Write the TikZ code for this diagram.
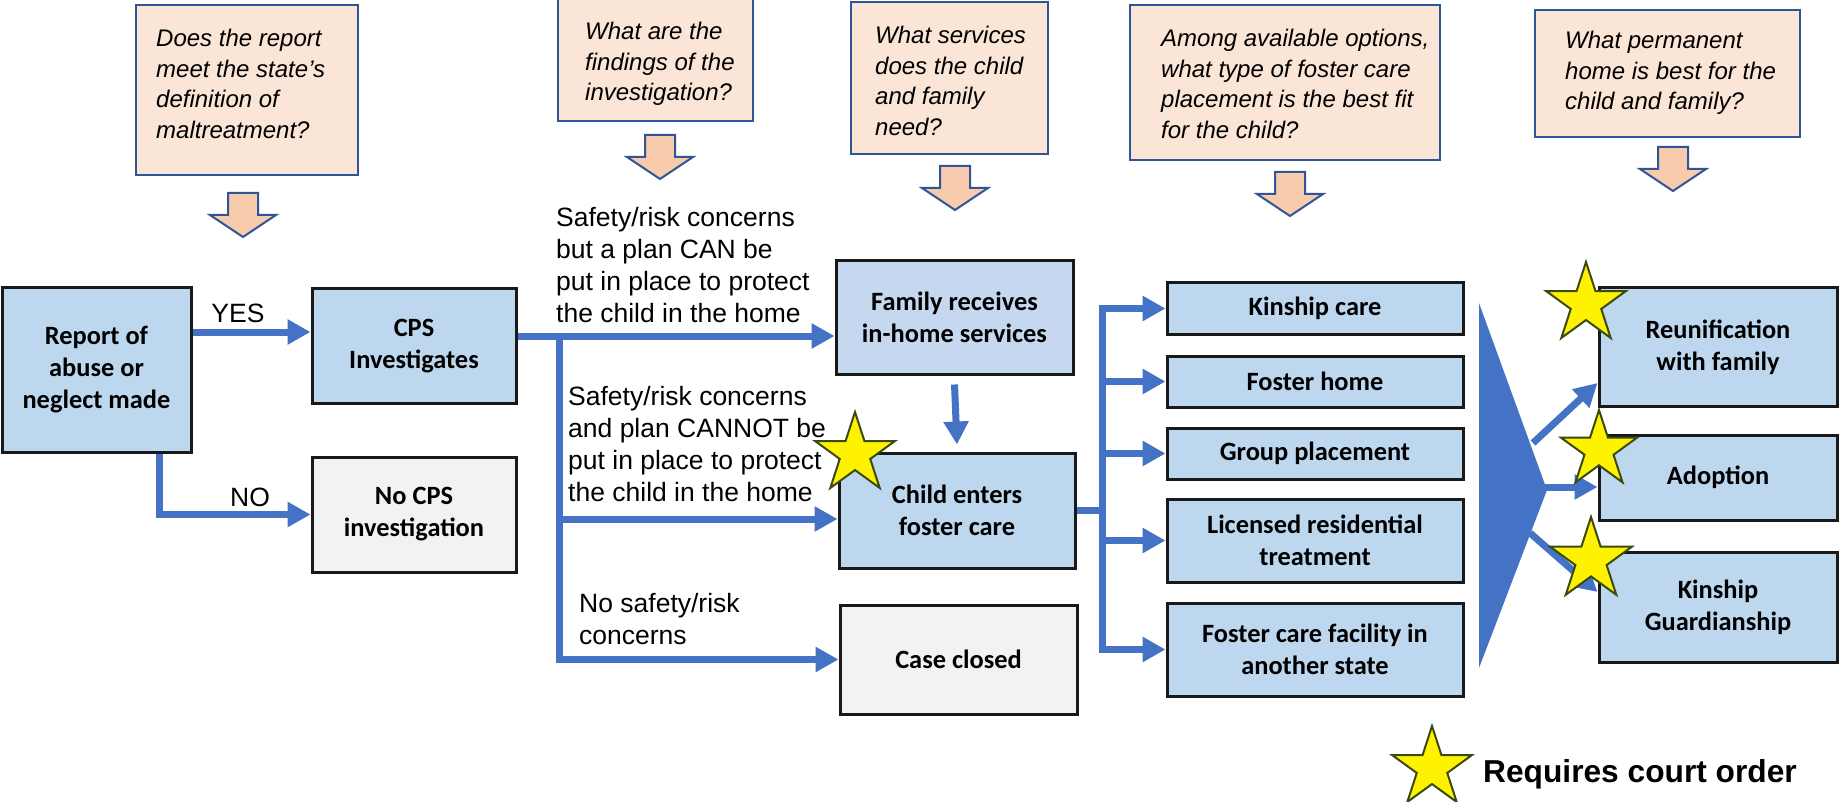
\documentclass[tikz,border=0pt]{standalone}
\usepackage{fontspec}
\setmainfont{Liberation Sans}
\newfontfamily\calibrifont{Carlito}
\usetikzlibrary{arrows.meta,shapes.geometric}
\definecolor{qfill}{HTML}{FBE5D6}
\definecolor{qborder}{HTML}{2F5597}
\definecolor{afill}{HTML}{F8CBAD}
\definecolor{boxblue}{HTML}{BDD7EE}
\definecolor{famblue}{HTML}{C5D8F0}
\definecolor{boxgrey}{HTML}{F2F2F2}
\definecolor{connblue}{HTML}{4472C4}
\definecolor{stargreen}{HTML}{3A4A12}
\begin{document}
\begin{tikzpicture}[x=1pt,y=-1pt,
  qbox/.style={draw=qborder, line width=2.5pt, fill=qfill, inner sep=0pt},
  qtext/.style={font=\itshape\fontsize{24pt}{30.5pt}\selectfont, align=left, inner sep=0pt, anchor=west},
  mbox/.style={draw=black!90, line width=3pt, fill=boxblue, align=center, inner sep=0pt,
    font=\calibrifont\bfseries\fontsize{26.4pt}{32pt}\selectfont},
  gbox/.style={mbox, fill=boxgrey},
  conn/.style={draw=connblue, line width=7pt, -{Triangle[length=23pt,width=24pt]}},
  conntwo/.style={draw=connblue, line width=7pt, {Triangle[length=23pt,width=24pt]}-{Triangle[length=23pt,width=24pt]}},
  plainline/.style={draw=connblue, line width=7pt},
  lbl/.style={font=\fontsize{26.5pt}{32pt}\selectfont, align=left, inner sep=0pt},
  cstar/.style={star, star points=5, star point ratio=2.618, fill=yellow, draw=stargreen, line width=2pt, inner sep=0pt},
  darrow/.pic={\draw[line width=2pt, draw=qborder, fill=afill, line join=miter]
     (-15,0) -- (15,0) -- (15,22) -- (33,22) -- (0,44) -- (-33,22) -- (-15,22) -- cycle;}
]
\useasboundingbox (0,0) rectangle (1839,802);

% question boxes
\node[qbox, minimum width=222pt, minimum height=170pt] (q1) at (247,90) {};
\node[qtext] (q1t) at (156,84) {Does the report\\meet the state’s\\definition of\\maltreatment?};
\node[qbox, minimum width=195pt, minimum height=122pt] (q2) at (655.5,60) {};
\node[qtext] (q2t) at (585,64) {What are the\\findings of the\\investigation?};
\node[qbox, minimum width=197pt, minimum height=152pt] (q3) at (949.5,78) {};
\node[qtext] (q3t) at (875,81) {What services\\does the child\\and family\\need?};
\node[qbox, minimum width=310pt, minimum height=155pt] (q4) at (1285,82.5) {};
\node[qtext] (q4t) at (1161,84) {Among available options,\\what type of foster care\\placement is the best fit\\for the child?};
\node[qbox, minimum width=265pt, minimum height=127pt] (q5) at (1667.5,73.5) {};
\node[qtext] (q5t) at (1565,73) {What permanent\\home is best for the\\child and family?};

% block arrows under the questions
\pic at (243,193) {darrow};
\pic at (660,135) {darrow};
\pic at (955,166) {darrow};
\pic at (1290,172) {darrow};
\pic at (1673,147) {darrow};

% main boxes
\node[mbox, minimum width=189pt, minimum height=164pt] (rep) at (96.5,370) {Report of\\abuse or\\neglect made};
\node[mbox, minimum width=204pt, minimum height=114pt] (cps) at (414,346) {CPS\\Investigates};
\node[gbox, minimum width=204pt, minimum height=115pt] (nocps) at (414,514.5) {No CPS\\investigation};
\node[mbox, fill=famblue, minimum width=237pt, minimum height=113pt] (fam) at (954.5,317.5) {Family receives\\in-home services};
\node[mbox, minimum width=236pt, minimum height=115pt] (child) at (957,510.5) {Child enters\\foster care};
\node[gbox, minimum width=237pt, minimum height=109pt] (case) at (958.5,659.5) {Case closed};

\node[mbox, minimum width=296pt, minimum height=51pt] (kin) at (1315,308.5) {Kinship care};
\node[mbox, minimum width=296pt, minimum height=51pt] (fh) at (1315,381.5) {Foster home};
\node[mbox, minimum width=296pt, minimum height=51pt] (grp) at (1315,453.5) {Group placement};
\node[mbox, minimum width=296pt, minimum height=83pt] (lic) at (1315,540.5) {Licensed residential\\treatment};
\node[mbox, minimum width=296pt, minimum height=93pt] (fac) at (1315,649.5) {Foster care facility in\\another state};

\node[mbox, minimum width=238pt, minimum height=118pt] (reu) at (1718,347) {Reunification\\with family};
\node[mbox, minimum width=238pt, minimum height=85pt] (adp) at (1718,477.5) {Adoption};
\node[mbox, minimum width=238pt, minimum height=110pt] (gdn) at (1718,607) {Kinship\\Guardianship};

% helper coordinates
\coordinate (yesy) at (0,332);
\coordinate (nox) at (159,0);
\coordinate (br) at (559,336);
\coordinate (cy) at (0,519);
\coordinate (cb) at (1102,510);

% connectors
\draw[conn] (rep.east |- yesy) -- (cps.west |- yesy);
\draw[conn] (rep.south -| nox) |- (nocps.west);
\draw[conn] (cps.east |- br) -- (fam.west |- br);
\draw[conn] (br) -- (br |- case.west) -- (case.west);
\draw[conn] (br |- cy) -- (child.west |- cy);
\draw[conn] ([yshift=-9pt]fam.south) -- ([yshift=7pt]child.north);

\draw[plainline] (child.east |- cb) -- (cb);
\draw[conntwo] (kin.west) -- (cb |- kin.west) -- (cb |- fac.west) -- (fac.west);
\draw[conn] (cb |- fh.west) -- (fh.west);
\draw[conn] (cb |- grp.west) -- (grp.west);
\draw[conn] (cb |- lic.west) -- (lic.west);

% funnel
\fill[connblue] (1479,303) -- (1547,490) -- (1479,668) -- cycle;
\coordinate (f1) at (1533,443);
\coordinate (f2) at (1540,487);
\coordinate (f3) at (1530,533);
\draw[conn] (f1) -- ([yshift=-36pt]reu.west);
\draw[conn] (f2) -- (adp.west |- f2);
\draw[conn] (f3) -- ([yshift=15pt]gdn.west);

% labels
\node[lbl] (yes) at (238,313) {YES};
\node[lbl] (no) at (250,497) {NO};
\node[lbl, anchor=west] (l1) at (556,265.5) {Safety/risk concerns\\but a plan CAN be\\put in place to protect\\the child in the home};
\node[lbl, anchor=west] (l2) at (568,444) {Safety/risk concerns\\and plan CANNOT be\\put in place to protect\\the child in the home};
\node[lbl, anchor=west] (l3) at (579,619) {No safety/risk\\concerns};

% stars
\node[cstar, minimum size=84pt] (s1) at (855,454) {};
\node[cstar, minimum size=84pt] (s2) at (1586,304) {};
\node[cstar, minimum size=80pt] (s3) at (1599,450) {};
\node[cstar, minimum size=86pt] (s4) at (1591,560) {};
\node[cstar, minimum size=84pt] (s5) at (1432,768) {};
\node[anchor=base west, inner sep=0pt, font=\bfseries\fontsize{31.7pt}{38pt}\selectfont] (leg) at (1483,782) {Requires court order};
\end{tikzpicture}
\end{document}
